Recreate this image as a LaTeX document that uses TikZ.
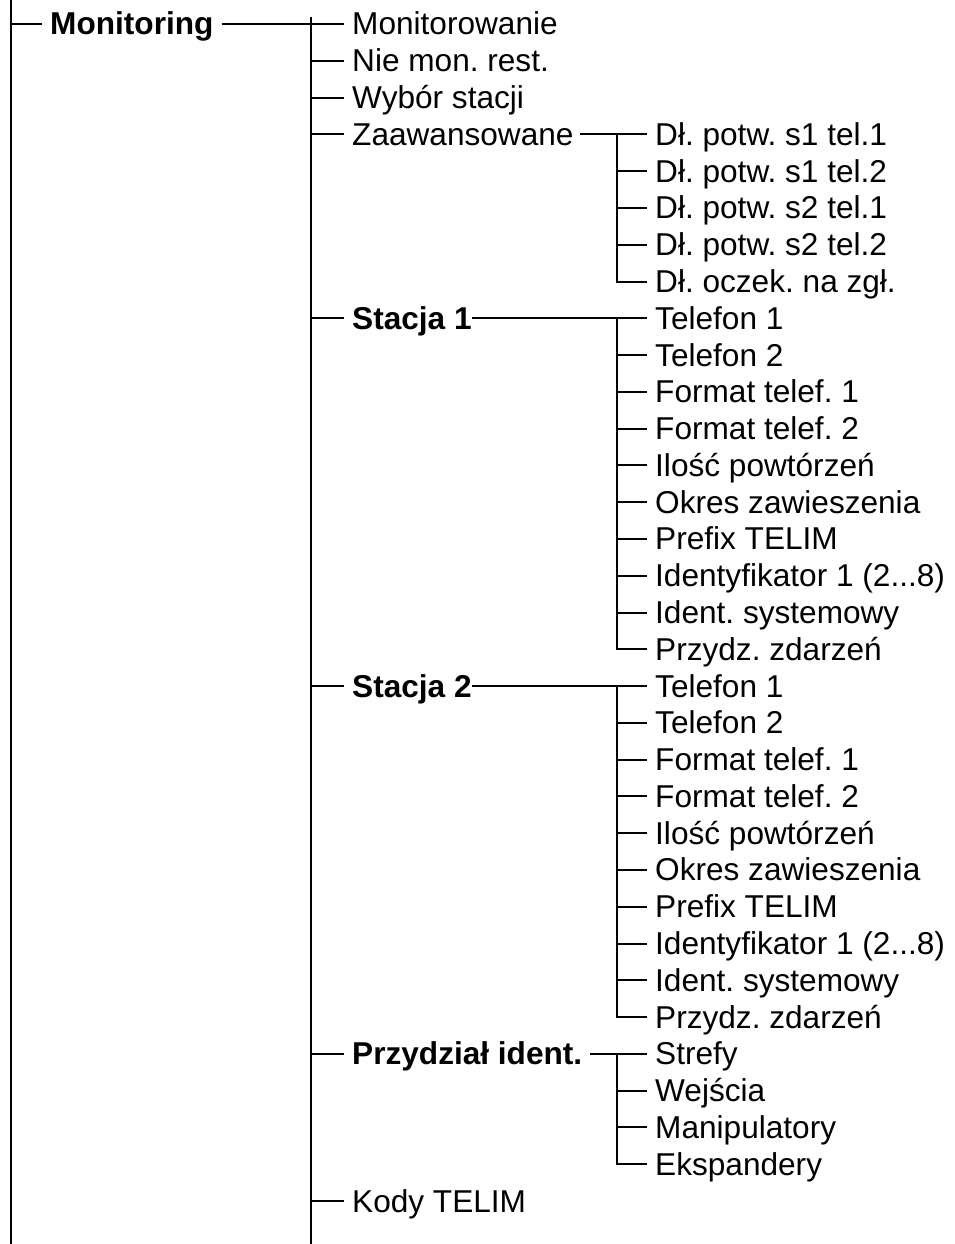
\documentclass[tikz,border=0pt]{standalone}
\usepackage{fontspec}
\setmainfont{Liberation Sans}
\usepackage{tikz}
\usetikzlibrary{positioning}
\frenchspacing

\begin{document}
\begin{tikzpicture}[
  x=1pt, y=-1pt,
  itm/.style={anchor=west, inner xsep=8pt, inner ysep=0pt,
              text height=22pt, text depth=0pt,
              font=\fontsize{31.6}{36}\selectfont},
  hd/.style={itm, font=\fontsize{31.6}{36}\selectfont\bfseries},
  edge/.style={line width=2pt, black}
]
  \useasboundingbox (0,0) rectangle (955,1244);

  % rails of the three levels
  \coordinate (v1top) at (11,0);
  \coordinate (v1bot) at (11,1244);
  \coordinate (v2top) at (311,17);
  \coordinate (v2bot) at (311,1244);
  \coordinate (v3) at (617,0);

  % level 1
  \node[hd] (mon) at (42,24) {Monitoring};

  % level 2
  \node[itm] (monw) at (344,24)    {Monitorowanie};
  \node[itm] (nie)  at (344,60.8)  {Nie mon. rest.};
  \node[itm] (wyb)  at (344,97.6)  {Wybór stacji};
  \node[itm] (zaw)  at (344,134.3) {Zaawansowane};
  \node[hd]  (st1)  at (344,318.2) {Stacja 1};
  \node[hd]  (st2)  at (344,686)   {Stacja 2};
  \node[hd]  (prz)  at (344,1053.8){Przydział ident.};
  \node[itm] (kod)  at (344,1201)  {Kody TELIM};

  % level 3: Zaawansowane
  \node[itm] (z1) at (647,134.3) {Dł. potw. s1 tel.1};
  \node[itm] (z2) at (647,171.1) {Dł. potw. s1 tel.2};
  \node[itm] (z3) at (647,207.9) {Dł. potw. s2 tel.1};
  \node[itm] (z4) at (647,244.7) {Dł. potw. s2 tel.2};
  \node[itm] (z5) at (647,281.5) {Dł. oczek. na zgł.};

  % level 3: Stacja 1
  \node[itm] (a1)  at (647,318.2) {Telefon 1};
  \node[itm] (a2)  at (647,355)   {Telefon 2};
  \node[itm] (a3)  at (647,391.8) {Format telef. 1};
  \node[itm] (a4)  at (647,428.6) {Format telef. 2};
  \node[itm] (a5)  at (647,465.4) {Ilość powtórzeń};
  \node[itm] (a6)  at (647,502.1) {Okres zawieszenia};
  \node[itm] (a7)  at (647,538.9) {Prefix TELIM};
  \node[itm] (a8)  at (647,575.7) {Identyfikator 1 (2...8)};
  \node[itm] (a9)  at (647,612.5) {Ident. systemowy};
  \node[itm] (a10) at (647,649.3) {Przydz. zdarzeń};

  % level 3: Stacja 2
  \node[itm] (b1)  at (647,686)    {Telefon 1};
  \node[itm] (b2)  at (647,722.8)  {Telefon 2};
  \node[itm] (b3)  at (647,759.6)  {Format telef. 1};
  \node[itm] (b4)  at (647,796.4)  {Format telef. 2};
  \node[itm] (b5)  at (647,833.2)  {Ilość powtórzeń};
  \node[itm] (b6)  at (647,869.9)  {Okres zawieszenia};
  \node[itm] (b7)  at (647,906.7)  {Prefix TELIM};
  \node[itm] (b8)  at (647,943.5)  {Identyfikator 1 (2...8)};
  \node[itm] (b9)  at (647,980.3)  {Ident. systemowy};
  \node[itm] (b10) at (647,1017.1) {Przydz. zdarzeń};

  % level 3: Przydzial ident.
  \node[itm] (p1) at (647,1053.8) {Strefy};
  \node[itm] (p2) at (647,1090.6) {Wejścia};
  \node[itm] (p3) at (647,1127.4) {Manipulatory};
  \node[itm] (p4) at (647,1164.2) {Ekspandery};

  % connectors
  \draw[edge] (v1top) -- (v1bot);
  \draw[edge] (mon.west -| v1top) -- (mon.west);
  \draw[edge] (mon.east) -- (monw.west);

  \draw[edge] (v2top) -- (v2bot);
  \draw[edge] (nie.west -| v2top) -- (nie.west);
  \draw[edge] (wyb.west -| v2top) -- (wyb.west);
  \draw[edge] (zaw.west -| v2top) -- (zaw.west);
  \draw[edge] (st1.west -| v2top) -- (st1.west);
  \draw[edge] (st2.west -| v2top) -- (st2.west);
  \draw[edge] (prz.west -| v2top) -- (prz.west);
  \draw[edge] (kod.west -| v2top) -- (kod.west);

  \draw[edge] ([xshift=-2pt]zaw.east) -- (z1.west);
  \draw[edge] (z1.west -| v3) |- (z5.west);
  \draw[edge] (z2.west -| v3) -- (z2.west);
  \draw[edge] (z3.west -| v3) -- (z3.west);
  \draw[edge] (z4.west -| v3) -- (z4.west);

  \draw[edge] ([xshift=-8pt]st1.east) -- (a1.west);
  \draw[edge] (a1.west -| v3) |- (a10.west);
  \draw[edge] (a2.west -| v3) -- (a2.west);
  \draw[edge] (a3.west -| v3) -- (a3.west);
  \draw[edge] (a4.west -| v3) -- (a4.west);
  \draw[edge] (a5.west -| v3) -- (a5.west);
  \draw[edge] (a6.west -| v3) -- (a6.west);
  \draw[edge] (a7.west -| v3) -- (a7.west);
  \draw[edge] (a8.west -| v3) -- (a8.west);
  \draw[edge] (a9.west -| v3) -- (a9.west);

  \draw[edge] ([xshift=-8pt]st2.east) -- (b1.west);
  \draw[edge] (b1.west -| v3) |- (b10.west);
  \draw[edge] (b2.west -| v3) -- (b2.west);
  \draw[edge] (b3.west -| v3) -- (b3.west);
  \draw[edge] (b4.west -| v3) -- (b4.west);
  \draw[edge] (b5.west -| v3) -- (b5.west);
  \draw[edge] (b6.west -| v3) -- (b6.west);
  \draw[edge] (b7.west -| v3) -- (b7.west);
  \draw[edge] (b8.west -| v3) -- (b8.west);
  \draw[edge] (b9.west -| v3) -- (b9.west);

  \draw[edge] (prz.east) -- (p1.west);
  \draw[edge] (p1.west -| v3) |- (p4.west);
  \draw[edge] (p2.west -| v3) -- (p2.west);
  \draw[edge] (p3.west -| v3) -- (p3.west);
\end{tikzpicture}
\end{document}
